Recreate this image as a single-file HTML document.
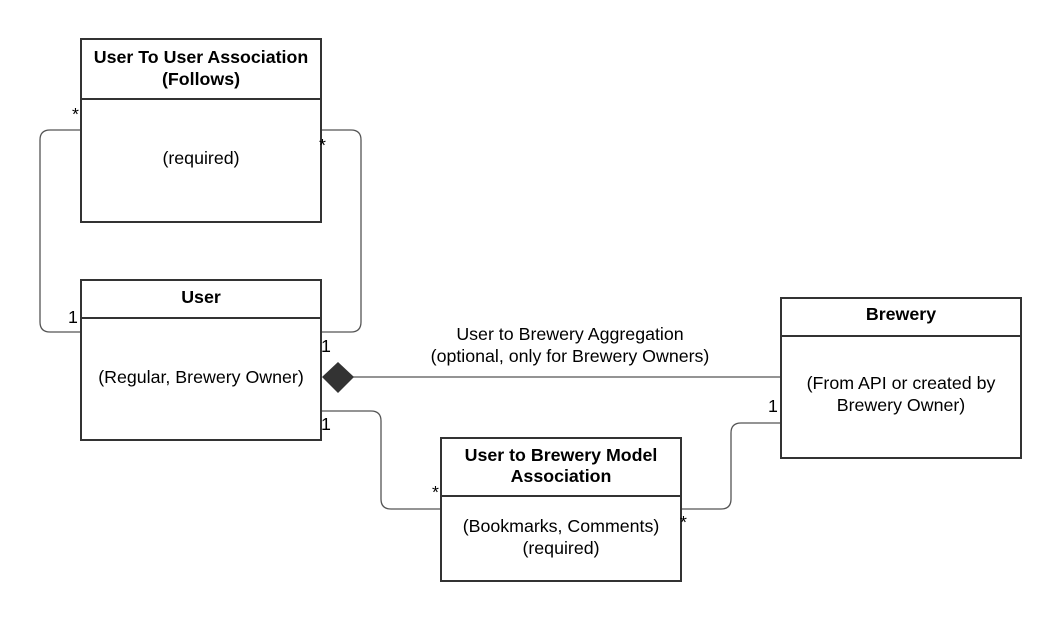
<!DOCTYPE html>
<html><head><meta charset="utf-8"><style>
body{margin:0;background:#fff;}
svg text{font-family:"Liberation Sans",sans-serif;fill:#000;}
</style></head><body>
<svg width="1061" height="621" viewBox="0 0 1061 621" xmlns="http://www.w3.org/2000/svg">
<g fill="none" stroke="#555" stroke-width="1.3">
<path d="M81 130 H50 Q40 130 40 140 V322 Q40 332 50 332 H81"/>
<path d="M321 130 H351 Q361 130 361 140 V322 Q361 332 351 332 H321"/>
<path d="M353 377 H781"/>
<path d="M321 411 H371 Q381 411 381 421 V499 Q381 509 391 509 H441"/>
<path d="M681 509 H721 Q731 509 731 499 V433 Q731 423 741 423 H781"/>
</g>
<polygon points="322,377 338,362 354,377 338,393" fill="#333"/>
<g fill="#fff" stroke="#333" stroke-width="2">
<rect x="81" y="39" width="240" height="183"/><line x1="81" y1="99" x2="321" y2="99"/>
<rect x="81" y="280" width="240" height="160"/><line x1="81" y1="318" x2="321" y2="318"/>
<rect x="781" y="298" width="240" height="160"/><line x1="781" y1="336" x2="1021" y2="336"/>
<rect x="441" y="438" width="240" height="143"/><line x1="441" y1="496" x2="681" y2="496"/>
</g>
<g font-size="17.8" text-anchor="middle">
<text x="201" y="63" font-weight="bold">User To User Association</text>
<text x="201" y="85" font-weight="bold">(Follows)</text>
<text x="201" y="164">(required)</text>
<text x="201" y="303" font-weight="bold">User</text>
<text x="201" y="383">(Regular, Brewery Owner)</text>
<text x="901" y="320" font-weight="bold">Brewery</text>
<text x="901" y="389">(From API or created by</text>
<text x="901" y="411">Brewery Owner)</text>
<text x="561" y="461" font-weight="bold">User to Brewery Model</text>
<text x="561" y="482" font-weight="bold">Association</text>
<text x="561" y="532">(Bookmarks, Comments)</text>
<text x="561" y="554">(required)</text>
<text x="570" y="340">User to Brewery Aggregation</text>
<text x="570" y="362">(optional, only for Brewery Owners)</text>
</g>
<g font-size="17.8">
<text x="72" y="120">*</text>
<text x="319" y="151">*</text>
<text x="68" y="323">1</text>
<text x="321" y="352">1</text>
<text x="321" y="430">1</text>
<text x="432" y="498">*</text>
<text x="680" y="528">*</text>
<text x="768" y="412">1</text>
</g>
</svg>
</body></html>
